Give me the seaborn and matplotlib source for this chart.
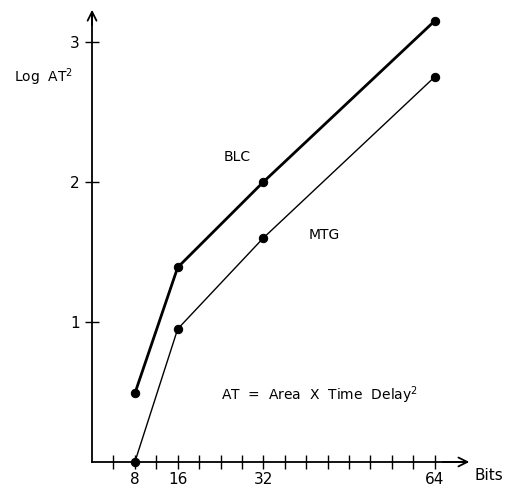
import matplotlib
matplotlib.use('Agg')
import matplotlib.pyplot as plt
import seaborn as sns
import pandas as pd

# data
bits = [8, 16, 32, 64]
blc = [0.49, 1.39, 2.0, 3.15]
mtg = [0.0, 0.95, 1.6, 2.75]
x_ticks = list(range(4, 65, 4))
x_labels = {8: '8', 16: '16', 32: '32', 64: '64'}
y_ticks = [1, 2, 3]

sns.set_style('white')
plt.rcParams['font.family'] = ['DejaVu Sans']
plt.rcParams['text.color'] = 'black'
plt.rcParams['xtick.color'] = 'black'
plt.rcParams['ytick.color'] = 'black'

df_blc = pd.DataFrame({'bits': bits, 'val': blc})
df_mtg = pd.DataFrame({'bits': bits, 'val': mtg})

fig = plt.figure(figsize=(5.09, 4.88), dpi=100)
ax = fig.add_axes([0, 0, 1, 1])

sns.lineplot(data=df_blc, x='bits', y='val', ax=ax, color='black', linewidth=2.0,
             marker='o', markersize=6, markeredgecolor='black')
sns.lineplot(data=df_mtg, x='bits', y='val', ax=ax, color='black', linewidth=1.0,
             marker='o', markersize=6, markeredgecolor='black')

ax.set_xlim(-17.2, 77.9)
ax.set_ylim(-0.186, 3.3)

for s in ['top', 'right']:
    ax.spines[s].set_visible(False)
ax.spines['left'].set_position(('data', 0))
ax.spines['bottom'].set_position(('data', 0))
ax.spines['left'].set_bounds(0, 3.2)
ax.spines['bottom'].set_bounds(0, 70)
ax.spines['left'].set_linewidth(1.3)
ax.spines['bottom'].set_linewidth(1.3)
ax.spines['left'].set_color('black')
ax.spines['bottom'].set_color('black')

ax.annotate('', xy=(71, 0), xytext=(65, 0),
            arrowprops=dict(arrowstyle='->', lw=1.3, color='black', mutation_scale=16))
ax.annotate('', xy=(0, 3.25), xytext=(0, 3.1),
            arrowprops=dict(arrowstyle='->', lw=1.3, color='black', mutation_scale=16))

ax.set_xticks(x_ticks)
ax.set_xticklabels([x_labels.get(t, '') for t in x_ticks], fontsize=11)
ax.set_yticks(y_ticks)
ax.set_yticklabels([str(t) for t in y_ticks], fontsize=11)
ax.tick_params(axis='both', direction='inout', length=10, width=1.0, color='black',
               bottom=True, left=True)
ax.tick_params(axis='x', pad=2)
ax.tick_params(axis='y', pad=4)
ax.set_xlabel('')
ax.set_ylabel('')

ax.text(71.5, -0.04, 'Bits', fontsize=11, ha='left', va='top')
ax.text(-14.5, 2.75, r'Log  AT$^{\mathregular{2}}$', fontsize=10, ha='left', va='center')
ax.text(24.5, 2.18, 'BLC', fontsize=10, ha='left', va='center')
ax.text(40.5, 1.62, 'MTG', fontsize=10, ha='left', va='center')
ax.text(24, 0.48, r'AT  =  Area  X  Time  Delay$^{\mathregular{2}}$', fontsize=10,
        ha='left', va='center')

fig.savefig('out.png', dpi=100)
